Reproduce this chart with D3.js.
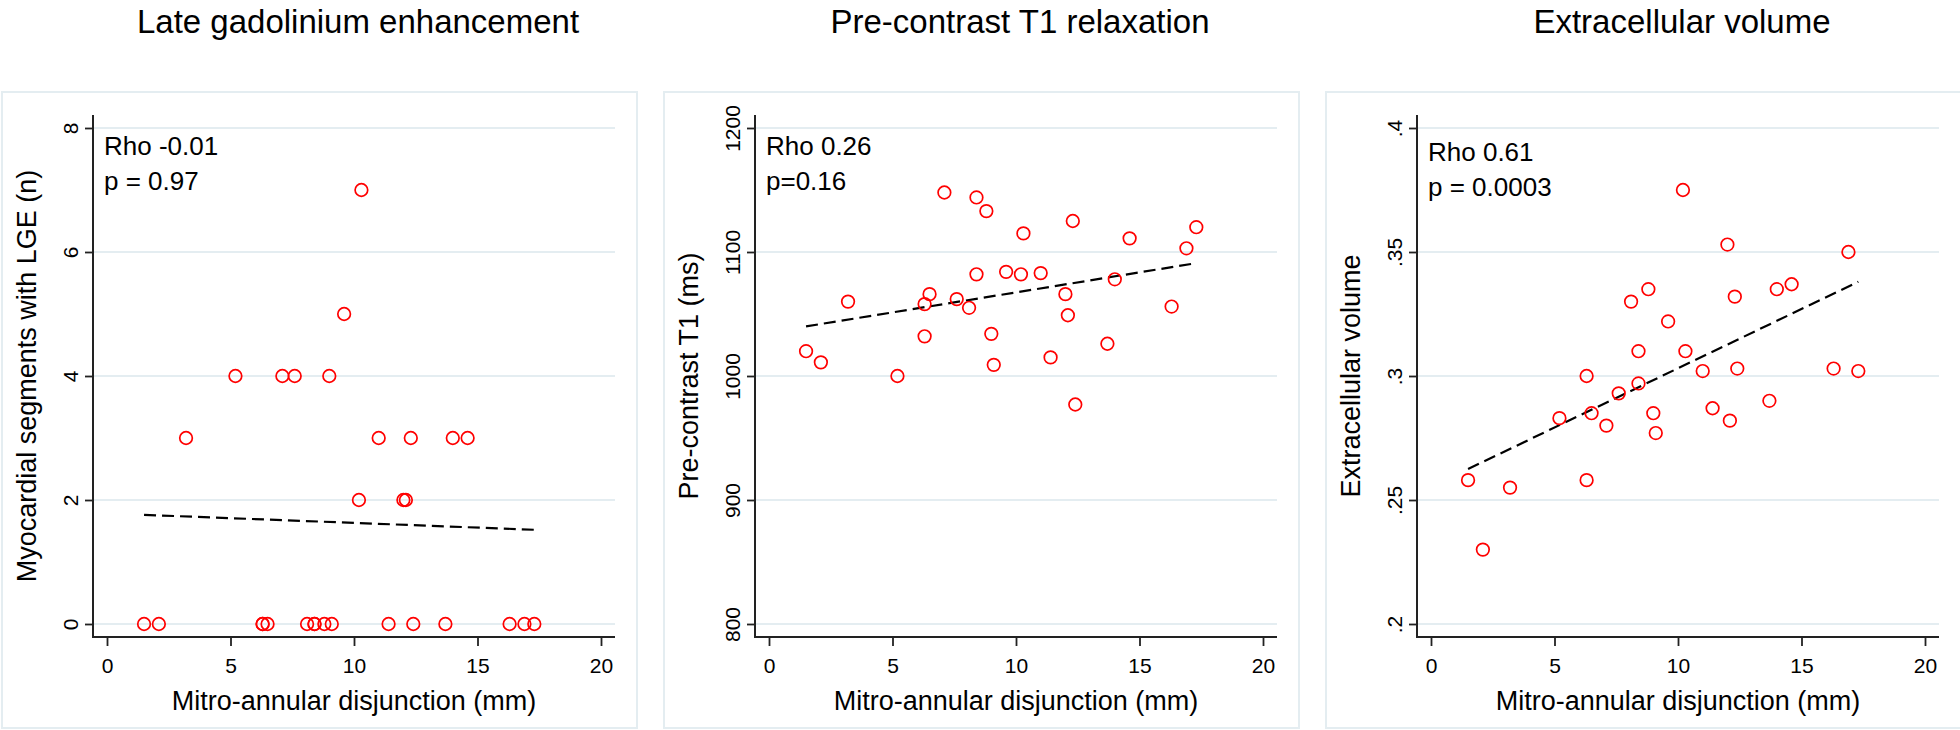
<!DOCTYPE html>
<html>
<head>
<meta charset="utf-8">
<script src="https://cdn.jsdelivr.net/npm/d3@7/dist/d3.min.js"></script>
<style>
  body { margin: 0; background: #fff; }
  svg text { font-family: Arial, 'Liberation Sans', sans-serif; fill: #000; }
</style>
</head>
<body>
<div id="canvas"></div>
<script>
/* global d3 */

// mitro-annular disjunction (mm), same patients in every panel
var mad = [1.5, 2.1, 3.2, 5.2, 6.3, 6.3, 6.5, 7.1, 7.6, 8.1, 8.4, 8.4, 8.8, 9.0, 9.1,
  9.6, 10.2, 10.3, 11.0, 11.4, 12.0, 12.1, 12.3, 12.4, 13.7, 14.0, 14.6, 16.3, 16.9, 17.3]
// myocardial segments with LGE (n)
var lge = [0, 0, 3, 4, 0, 0, 0, 4, 4, 0, 0, 0, 0, 4, 0,
  5, 2, 7, 3, 0, 2, 2, 3, 0, 0, 3, 3, 0, 0, 0]
// pre-contrast T1 (ms)
var t1 = [1020, 1011, 1060, 1000, 1058, 1032, 1066, 1148, 1062, 1055, 1144, 1082, 1133, 1034, 1009,
  1084, 1082, 1115, 1083, 1015, 1066, 1049, 1125, 977, 1026, 1078, 1111, 1056, 1103, 1120]
// extracellular volume
var ecv = [0.258, 0.230, 0.255, 0.283, 0.300, 0.258, 0.285, 0.280, 0.293, 0.330, 0.310, 0.297, 0.335, 0.285, 0.277,
  0.322, 0.375, 0.310, 0.302, 0.287, 0.353, 0.282, 0.332, 0.303, 0.290, 0.335, 0.337, 0.303, 0.350, 0.302]

// fitted lines as drawn, [x, y] at each end
var lgeFit = [[1.5, 1.76], [17.3, 1.52]]
var t1Fit = [[1.5, 1040], [17.3, 1091]]
var ecvFit = [[1.5, 0.2625], [17.3, 0.338]]

var xTicks = [0, 5, 10, 15, 20]
var xTitle = 'Mitro-annular disjunction (mm)'
var panelTitles = ['Late gadolinium enhancement', 'Pre-contrast T1 relaxation', 'Extracellular volume']
var yTitles = ['Myocardial segments with LGE (n)', 'Pre-contrast T1 (ms)', 'Extracellular volume']
var yDomains = [[0, 8], [800, 1200], [0.2, 0.4]]
var yTicks = [[0, 2, 4, 6, 8], [800, 900, 1000, 1100, 1200], [0.2, 0.25, 0.3, 0.35, 0.4]]
var yTickLabels = [['0', '2', '4', '6', '8'], ['800', '900', '1000', '1100', '1200'], ['.2', '.25', '.3', '.35', '.4']]
var stats = [['Rho -0.01', 'p = 0.97'], ['Rho 0.26', 'p=0.16'], ['Rho 0.61', 'p = 0.0003']]

var panels = [
  {y: lge, fit: lgeFit},
  {y: t1, fit: t1Fit},
  {y: ecv, fit: ecvFit}
]

var width = 1960, height = 730
var step = 662
var statTop = [155, 155, 161]

var svg = d3.select('#canvas')
  .append('svg')
  .attr('width', width)
  .attr('height', height)

var gridColor = '#e4edf1'
var axisColor = '#222'

panels.forEach(function (p, i) {
  var ox = i * step
  var g = svg.append('g').attr('transform', 'translate(' + ox + ',0)')

  var x = d3.scaleLinear().domain([0, 20]).range([107, 601])
  var y = d3.scaleLinear().domain(yDomains[i]).range([624, 128])

  var axisX = x.range()[0] - 14
  var axisY = y.range()[0] + 13
  var axisRight = x.range()[1] + 14
  var axisTop = y.range()[1] - 13

  // panel frame
  g.append('rect')
    .attr('x', 2)
    .attr('y', 92)
    .attr('width', 635)
    .attr('height', 636)
    .attr('fill', '#fff')
    .attr('stroke', gridColor)
    .attr('stroke-width', 2)

  // grid
  g.append('g')
    .selectAll('line')
    .data(yTicks[i])
    .enter()
    .append('line')
    .attr('x1', axisX)
    .attr('x2', axisRight)
    .attr('y1', d => y(d))
    .attr('y2', d => y(d))
    .attr('stroke', gridColor)
    .attr('stroke-width', 2)

  // y axis
  var yAxis = g.append('g')
    .attr('transform', 'translate(' + axisX + ',0)')
    .call(d3.axisLeft(y)
      .tickValues(yTicks[i])
      .tickFormat((d, k) => yTickLabels[i][k])
      .tickSize(8)
      .tickSizeOuter(0))
  yAxis.select('.domain').remove()
  yAxis.selectAll('line').attr('stroke', axisColor).attr('stroke-width', 1.8)
  yAxis.selectAll('text')
    .attr('x', 0)
    .attr('y', -15)
    .attr('dy', 0)
    .attr('transform', 'rotate(-90)')
    .attr('text-anchor', 'middle')
    .style('font-size', '21px')

  // x axis
  var xAxis = g.append('g')
    .attr('transform', 'translate(0,' + axisY + ')')
    .call(d3.axisBottom(x)
      .tickValues(xTicks)
      .tickSize(9)
      .tickPadding(12)
      .tickSizeOuter(0))
  xAxis.select('.domain').remove()
  xAxis.selectAll('line').attr('stroke', axisColor).attr('stroke-width', 1.8)
  xAxis.selectAll('text').style('font-size', '21px')

  // axis lines
  g.append('path')
    .attr('d', 'M' + axisX + ',' + axisTop + 'V' + axisY + 'H' + axisRight)
    .attr('fill', 'none')
    .attr('stroke', axisColor)
    .attr('stroke-width', 2)

  // fitted line
  g.append('path')
    .datum(p.fit)
    .attr('d', d3.line().x(d => x(d[0])).y(d => y(d[1])))
    .attr('fill', 'none')
    .attr('stroke', '#000')
    .attr('stroke-width', 2.2)
    .attr('stroke-dasharray', '12,6')

  // points
  g.append('g')
    .selectAll('circle')
    .data(mad)
    .enter()
    .append('circle')
    .attr('cx', d => x(d))
    .attr('cy', (d, k) => y(p.y[k]))
    .attr('r', 6.3)
    .attr('fill', 'none')
    .attr('stroke', '#f00')
    .attr('stroke-width', 1.7)

  // rho / p
  stats[i].forEach(function (s, k) {
    g.append('text')
      .attr('x', axisX + 11)
      .attr('y', statTop[i] + k * 35)
      .style('font-size', '26px')
      .text(s)
  })

  var midX = (axisX + axisRight) / 2
  var midY = (y.range()[0] + y.range()[1]) / 2

  // titles
  g.append('text')
    .attr('x', midX + 4)
    .attr('y', 33)
    .attr('text-anchor', 'middle')
    .style('font-size', '33px')
    .text(panelTitles[i])

  g.append('text')
    .attr('x', midX)
    .attr('y', 710)
    .attr('text-anchor', 'middle')
    .style('font-size', '27px')
    .text(xTitle)

  g.append('text')
    .attr('transform', 'translate(36,' + midY + ') rotate(-90)')
    .attr('text-anchor', 'middle')
    .style('font-size', '27px')
    .text(yTitles[i])
})
</script>
</body>
</html>
